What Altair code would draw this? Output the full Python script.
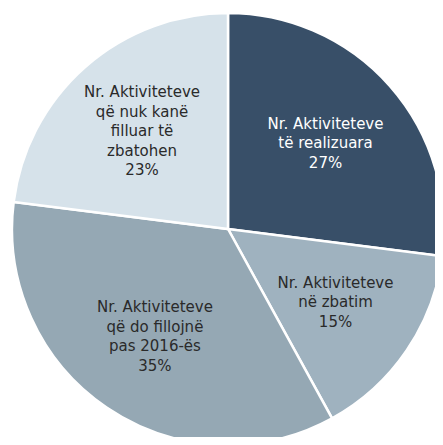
import altair as alt
import pandas as pd

categories = [
    "Nr. Aktiviteteve\ntë realizuara",
    "Nr. Aktiviteteve\nnë zbatim",
    "Nr. Aktiviteteve\nqë do fillojnë\npas 2016-ës",
    "Nr. Aktiviteteve\nqë nuk kanë\nfilluar të\nzbatohen",
]
values = [27, 15, 35, 23]
colors = ["#384f68", "#9fb2bf", "#95a8b4", "#d6e2ea"]

LINE_H = 19.5

df = pd.DataFrame({
    "cat": categories,
    "value": values,
    "order": list(range(len(values))),
})
df["label"] = df["cat"] + "\n" + df["value"].astype(str) + "%"

arcs = alt.Chart(df).mark_arc(outerRadius=216, stroke="white", strokeWidth=2.5).encode(
    theta=alt.Theta("value:Q", stack=True),
    order=alt.Order("order:Q"),
    x=alt.value(220),
    y=alt.value(221),
    color=alt.Color("cat:N", scale=alt.Scale(domain=categories, range=colors), legend=None),
)

texts = alt.Chart(df).transform_window(
    cum="sum(value)", sort=[alt.SortField("order")], frame=[None, 0]
).transform_joinaggregate(
    total="sum(value)"
).transform_calculate(
    frac="(datum.cum - datum.value / 2) / datum.total",
    yoff=f"-(length(split(datum.label, '\\n')) - 1) * {LINE_H} / 2",
).mark_text(
    radius=130, lineBreak="\n", fontSize=15, font="DejaVu Sans",
    lineHeight=LINE_H, align="center", baseline="middle",
).encode(
    theta=alt.Theta("frac:Q", stack=None, scale=alt.Scale(domain=[0, 1], range=[0, 6.283185307179586])),
    x=alt.value(220),
    y=alt.value(221),
    yOffset=alt.YOffset("yoff:Q", scale=None),
    text="label:N",
    color=alt.condition(alt.datum.order == 0, alt.value("white"), alt.value("#2a2a2a")),
)

chart = alt.layer(arcs, texts).resolve_scale(theta="independent").properties(
    width=427, height=429, padding=0, autosize=alt.AutoSizeParams(type="none")
).configure_view(stroke=None)

chart.save("out.html", embed_options={"renderer": "svg", "actions": False})
